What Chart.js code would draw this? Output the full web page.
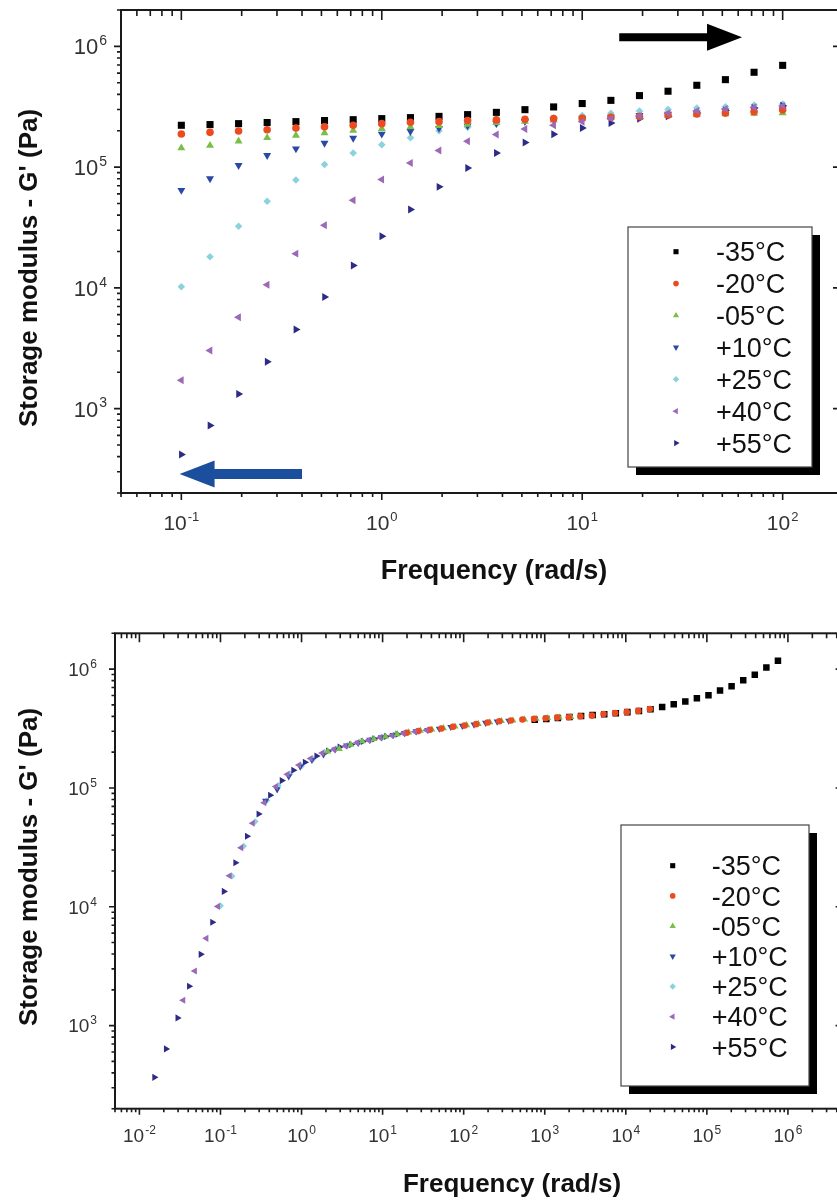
<!DOCTYPE html>
<html>
<head>
<meta charset="utf-8">
<script src="https://cdn.jsdelivr.net/npm/chart.js@4/dist/chart.umd.min.js"></script>
<style>
  html, body { margin: 0; padding: 0; background: #fff; overflow: hidden; }
  #wrap { position: relative; width: 837px; height: 1201px; overflow: hidden; background: #fff; }
  canvas { position: absolute; left: 0; }
  #topChart { top: 0; }
  #bottomChart { top: 600px; }
</style>
</head>
<body>
<div id="wrap">
  <canvas id="topChart" width="880" height="600"></canvas>
  <canvas id="bottomChart" width="880" height="601"></canvas>
</div>
<script>
'use strict';

// frequency sweep (rad/s), same for every temperature
let freq = [0.1, 0.139, 0.193, 0.268, 0.373, 0.518, 0.72, 1, 1.39, 1.93, 2.68,
  3.73, 5.18, 7.2, 10, 13.9, 19.3, 26.8, 37.3, 51.8, 72, 100];

let temps = ['-35°C', '-20°C', '-05°C', '+10°C', '+25°C', '+40°C', '+55°C'];

// storage modulus G' (Pa)
let gM35 = [222000, 225000, 229000, 234000, 238000, 243000, 247000, 252000, 257000, 263000, 272000,
  284000, 299000, 315000, 336000, 357000, 391000, 425000, 476000, 530000, 610000, 696000];
let gM20 = [188000, 194000, 199000, 204000, 211000, 216000, 222000, 229000, 235000, 238000, 243000,
  246000, 249000, 252000, 254000, 259000, 262000, 270000, 275000, 280000, 287000, 298000];
let gM05 = [144000, 151000, 164000, 175000, 183000, 192000, 201000, 208000, 215000, 220000, 226000,
  233000, 239000, 245000, 253000, 259000, 262000, 267000, 271000, 275000, 278000, 281000];
let gP10 = [64300, 80300, 103500, 125000, 142000, 158000, 174000, 188000, 198000, 210000, 220000,
  230000, 239000, 247000, 254000, 260000, 269000, 275000, 282000, 292000, 299000, 304000];
let gP25 = [10200, 18100, 32400, 52100, 78300, 105000, 131000, 153000, 175000, 200000, 214000,
  228000, 243000, 255000, 267000, 279000, 291000, 300000, 308000, 316000, 327000, 333000];
let gP40 = [1720, 3030, 5710, 10600, 19200, 33000, 53100, 78900, 108000, 137000, 164000,
  186000, 207000, 222000, 237000, 252000, 265000, 279000, 291000, 303000, 313000, 322000];
let gP55 = [417, 724, 1320, 2440, 4520, 8410, 15300, 26700, 44500, 68600, 98500,
  131000, 160000, 187000, 211000, 232000, 251000, 263000, 280000, 294000, 308000, 322000];

// master curve shift factors (reference +25°C): horizontal aT, vertical bT
let shiftA = [7530, 198, 21, 3.6, 1, 0.347, 0.153];
let shiftB = [1.69, 1.55, 1.41, 1.21, 1, 0.95, 0.88];

// tick labels
let xTicksTop = [0.1, 1, 10, 100];
let xTicksBottom = [0.01, 0.1, 1, 10, 100, 1000, 10000, 100000, 1000000];
let yTicks = [1000, 10000, 100000, 1000000];

let series = [gM35, gM20, gM05, gP10, gP25, gP40, gP55];

let markerColors = ['#000000', '#ec4a21', '#78bf48', '#2b48a6', '#8bd2dc', '#9a69b7', '#2c2b86'];
let markerStyles = ['rect', 'circle', 'triangle', 'triangle', 'rectRot', 'triangle', 'triangle'];
let markerRotations = [0, 0, 0, 180, 0, 270, 90];
// lower number is painted on top
let drawOrder = [6, 1, 2, 3, 5, 0, 4];

let FONT = '"Liberation Sans", Arial, Helvetica, sans-serif';

function buildDatasets(shifted, radii) {
  return series.map(function (g, i) {
    return {
      label: temps[i],
      data: freq.map(function (f, k) {
        return {
          x: shifted ? f * shiftA[i] : f,
          y: shifted ? g[k] * shiftB[i] : g[k]
        };
      }),
      showLine: false,
      pointStyle: markerStyles[i],
      pointRotation: markerRotations[i],
      pointRadius: radii[markerStyles[i]],
      pointHoverRadius: radii[markerStyles[i]],
      pointBackgroundColor: markerColors[i],
      pointBorderColor: markerColors[i],
      pointBorderWidth: 0,
      order: drawOrder[i]
    };
  });
}

// 1..9 x 10^n steps inside a range, for the tick marks
function logSteps(min, max) {
  let out = [];
  for (let e = Math.floor(Math.log10(min)); e <= Math.ceil(Math.log10(max)); e++) {
    for (let m = 1; m <= 9; m++) {
      let v = m * Math.pow(10, e);
      if (v >= min * 0.999 && v <= max * 1.001) {
        out.push({ v: v, major: m === 1 });
      }
    }
  }
  return out;
}

function drawPower(ctx, value, x, y, size, align) {
  let exp = String(Math.round(Math.log10(value)));
  let supSize = Math.round(size * 0.62);
  ctx.font = size + 'px ' + FONT;
  let wBase = ctx.measureText('10').width;
  ctx.font = supSize + 'px ' + FONT;
  let wExp = ctx.measureText(exp).width;
  let total = wBase + 1 + wExp;
  let left = align === 'center' ? x - total / 2 : x - total;
  ctx.textAlign = 'left';
  ctx.textBaseline = 'alphabetic';
  ctx.font = size + 'px ' + FONT;
  ctx.fillText('10', left, y);
  ctx.font = supSize + 'px ' + FONT;
  ctx.fillText(exp, left + wBase + 1, y - size * 0.42);
}

function drawArrow(ctx, xs, ys, arrow) {
  let x0 = xs.getPixelForValue(arrow.from[0]);
  let x1 = xs.getPixelForValue(arrow.to[0]);
  let y = ys.getPixelForValue(arrow.from[1]);
  let dir = x1 > x0 ? 1 : -1;
  let neck = x1 - dir * arrow.headLen;
  ctx.fillStyle = arrow.color;
  ctx.beginPath();
  ctx.moveTo(x0, y - arrow.thick / 2);
  ctx.lineTo(neck, y - arrow.thick / 2);
  ctx.lineTo(neck, y - arrow.headH / 2);
  ctx.lineTo(x1, y);
  ctx.lineTo(neck, y + arrow.headH / 2);
  ctx.lineTo(neck, y + arrow.thick / 2);
  ctx.lineTo(x0, y + arrow.thick / 2);
  ctx.closePath();
  ctx.fill();
}

let decorPlugin = {
  id: 'decor',
  afterDraw: function (chart, args, o) {
    let ctx = chart.ctx;
    let a = chart.chartArea;
    let xs = chart.scales.x;
    let ys = chart.scales.y;
    ctx.save();

    // tick marks: outward on left/bottom, inward on top/right
    ctx.strokeStyle = '#1a1a1a';
    ctx.lineWidth = 1.6;
    ctx.beginPath();
    logSteps(xs.min, xs.max).forEach(function (t) {
      let px = xs.getPixelForValue(t.v);
      let out = t.major ? o.tickOut[0] : o.tickOut[1];
      let inn = t.major ? o.tickIn[0] : o.tickIn[1];
      ctx.moveTo(px, a.bottom);
      ctx.lineTo(px, a.bottom + out);
      ctx.moveTo(px, a.top);
      ctx.lineTo(px, a.top + inn);
    });
    logSteps(ys.min, ys.max).forEach(function (t) {
      let py = ys.getPixelForValue(t.v);
      let out = t.major ? o.tickOut[0] : o.tickOut[1];
      let inn = t.major ? o.tickIn[0] : o.tickIn[1];
      ctx.moveTo(a.left, py);
      ctx.lineTo(a.left - out, py);
      ctx.moveTo(a.right, py);
      ctx.lineTo(a.right - inn, py);
    });
    ctx.stroke();

    ctx.lineWidth = 2;
    ctx.strokeRect(a.left, a.top, a.right - a.left, a.bottom - a.top);

    // tick labels
    ctx.fillStyle = '#333';
    o.xLabels.forEach(function (v) {
      drawPower(ctx, v, xs.getPixelForValue(v), a.bottom + o.xLabelDrop, o.xLabelSize, 'center');
    });
    yTicks.forEach(function (v) {
      drawPower(ctx, v, a.left - o.yLabelGap, ys.getPixelForValue(v) + o.yLabelSize * 0.36, o.yLabelSize, 'right');
    });

    // axis titles
    ctx.fillStyle = '#111';
    ctx.textAlign = 'center';
    ctx.textBaseline = 'alphabetic';
    ctx.font = 'bold ' + o.xTitle.size + 'px ' + FONT;
    ctx.fillText('Frequency (rad/s)', o.xTitle.x, o.xTitle.y);
    ctx.save();
    ctx.translate(o.yTitle.x, o.yTitle.y);
    ctx.rotate(-Math.PI / 2);
    ctx.font = 'bold ' + o.yTitle.size + 'px ' + FONT;
    ctx.fillText("Storage modulus - G' (Pa)", 0, 0);
    ctx.restore();

    (o.arrows || []).forEach(function (arrow) {
      drawArrow(ctx, xs, ys, arrow);
    });

    // legend box with drop shadow
    let L = o.legend;
    ctx.fillStyle = '#000';
    ctx.fillRect(L.x + L.shadow, L.y + L.shadow, L.w, L.h);
    ctx.fillStyle = '#fff';
    ctx.fillRect(L.x, L.y, L.w, L.h);
    ctx.strokeStyle = '#444';
    ctx.lineWidth = 1.2;
    ctx.strokeRect(L.x, L.y, L.w, L.h);
    chart.data.datasets.forEach(function (ds, i) {
      let rowY = L.rowY + i * L.rowGap;
      ctx.fillStyle = ds.pointBackgroundColor;
      Chart.helpers.drawPoint(ctx, {
        pointStyle: ds.pointStyle,
        rotation: ds.pointRotation,
        radius: L.marker[ds.pointStyle],
        borderWidth: 0
      }, L.markX, rowY);
      ctx.fillStyle = '#111';
      ctx.font = L.size + 'px ' + FONT;
      ctx.textAlign = 'left';
      ctx.textBaseline = 'alphabetic';
      ctx.fillText(ds.label, L.textX, rowY + L.size * 0.36);
    });

    ctx.restore();
  }
};

function chartOptions(xMin, xMax, padding, decor) {
  return {
    responsive: false,
    animation: false,
    devicePixelRatio: 1,
    events: [],
    layout: { padding: padding },
    scales: {
      x: { type: 'logarithmic', display: false, min: xMin, max: xMax },
      y: { type: 'logarithmic', display: false, min: 200, max: 2000000 }
    },
    plugins: {
      legend: { display: false },
      tooltip: { enabled: false },
      decor: decor
    }
  };
}

let legendMarkers = { rect: 3.6, circle: 2.8, triangle: 3.6, rectRot: 3.2 };

new Chart(document.getElementById('topChart'), {
  type: 'scatter',
  data: { datasets: buildDatasets(false, { rect: 5, circle: 3.8, triangle: 4.6, rectRot: 3.8 }) },
  options: chartOptions(0.05, 200, { left: 121, top: 10, right: 37, bottom: 107 }, {
    tickOut: [7, 4],
    tickIn: [10, 6],
    xLabels: xTicksTop,
    xLabelSize: 21,
    xLabelDrop: 37,
    yLabelSize: 22,
    yLabelGap: 14,
    xTitle: { x: 494, y: 579, size: 27 },
    yTitle: { x: 37, y: 268, size: 26 },
    arrows: [
      { from: [15.3, 1190000], to: [62.7, 1190000], color: '#000', thick: 8, headLen: 35, headH: 27 },
      { from: [0.4, 288], to: [0.098, 288], color: '#1b4f9e', thick: 10, headLen: 35, headH: 27 }
    ],
    legend: { x: 628, y: 227, w: 184, h: 240, shadow: 8, rowY: 251.7, rowGap: 31.9,
      markX: 676, textX: 716, size: 27, marker: legendMarkers }
  }),
  plugins: [decorPlugin]
});

new Chart(document.getElementById('bottomChart'), {
  type: 'scatter',
  data: { datasets: buildDatasets(true, { rect: 4.6, circle: 3.3, triangle: 4.1, rectRot: 3.4 }) },
  options: chartOptions(0.005, 5000000, { left: 115, top: 33.3, right: 35.4, bottom: 92.3 }, {
    tickOut: [6, 3.5],
    tickIn: [9, 5],
    xLabels: xTicksBottom,
    xLabelSize: 19,
    xLabelDrop: 33.6,
    yLabelSize: 19,
    yLabelGap: 18,
    xTitle: { x: 512, y: 592, size: 26 },
    yTitle: { x: 37, y: 267, size: 26 },
    legend: { x: 621, y: 225, w: 188, h: 261, shadow: 8, rowY: 265.7, rowGap: 30.2,
      markX: 672.7, textX: 711.7, size: 27, marker: legendMarkers }
  }),
  plugins: [decorPlugin]
});
</script>
</body>
</html>
